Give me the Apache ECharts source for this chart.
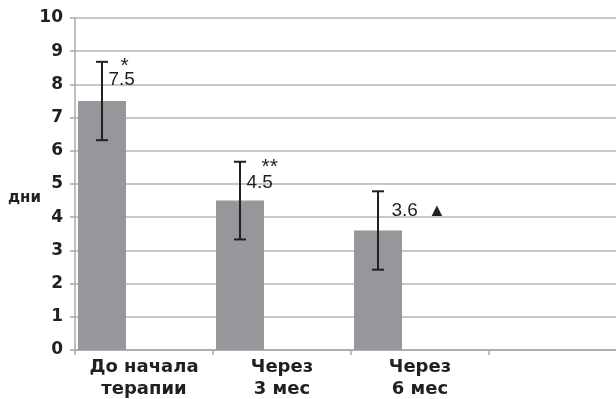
<!DOCTYPE html>
<html>
<head>
<meta charset="utf-8">
<style>
  html, body { margin: 0; padding: 0; background: #fff; }
  #chart { width: 616px; height: 399px; }
</style>
<script src="https://cdn.jsdelivr.net/npm/echarts@6/dist/echarts.min.js"></script>
</head>
<body>
<div id="chart"></div>
<script>
// Categories along the x axis (the fourth slot is left empty)
const categories = ['До начала\nтерапии', 'Через\n3 мес', 'Через\n6 мес', ''];
// Mean duration, days
const means = [7.5, 4.5, 3.6];
// Half-length of the error bars, days
const errors = [1.18, 1.17, 1.18];
// Significance marks written next to each value
const marks = ['*', '**', '▲'];
// Y axis range and step
const yMin = 0, yMax = 10, yStep = 1;

// Layout of the value labels relative to the top of each bar [dx, dy]
const labelOffsets = [[6.5, -21.5], [6.5, -17.5], [13.5, -19.5]];
const markOffsets = [[18.5, -45], [21.5, -43.5], [50, -19]];

const BAR_W = 48;
const BAR_GAP_PX = 36;
const barShift = -(BAR_W * 2 + BAR_GAP_PX) / 2 + BAR_W / 2;

const INK = '#231f20';
const FONT = '"Liberation Sans", Arial, sans-serif';
const BOLD_FONT = '"DejaVu Sans", sans-serif';

const chart = echarts.init(document.getElementById('chart'));

chart.setOption({
  animation: false,
  backgroundColor: '#fff',
  grid: { left: 75, width: 552, top: 18, bottom: 49, containLabel: false, outerBoundsMode: 'none' },
  xAxis: {
    type: 'category',
    data: categories,
    boundaryGap: true,
    axisLine: { lineStyle: { color: '#a9a9a9', width: 1.5 } },
    axisTick: { show: true, length: 5, lineStyle: { color: '#a9a9a9', width: 1.5 } },
    axisLabel: {
      color: INK, fontFamily: BOLD_FONT, fontWeight: 'bold', fontSize: 18,
      lineHeight: 22, margin: 6, interval: 0
    },
    splitLine: { show: false }
  },
  yAxis: {
    type: 'value',
    min: yMin, max: yMax, interval: yStep,
    axisLine: { show: true, lineStyle: { color: '#a9a9a9', width: 1.5 } },
    axisTick: { show: true, length: 5, lineStyle: { color: '#a9a9a9', width: 1.5 } },
    axisLabel: {
      color: INK, fontFamily: BOLD_FONT, fontWeight: 'bold', fontSize: 17, margin: 12
    },
    splitLine: { lineStyle: { color: '#b4b4b4', width: 1.5 } }
  },
  graphic: [{
    type: 'text', left: 8, top: 191,
    style: { text: 'дни', fill: INK, font: 'bold 15px ' + BOLD_FONT }
  }],
  series: [
    {
      type: 'bar',
      data: means,
      barWidth: BAR_W,
      barGap: (BAR_GAP_PX / BAR_W * 100) + '%',
      itemStyle: { color: '#96979a' },
      z: 2
    },
    {
      // empty companion series: keeps each bar at the left of its slot
      type: 'bar',
      data: [],
      barWidth: BAR_W
    },
    {
      type: 'custom',
      z: 5,
      data: means.map((m, i) => [i, m, errors[i]]),
      renderItem: function (params, api) {
        const i = api.value(0);
        const m = api.value(1);
        const e = api.value(2);
        const top = api.coord([i, m + e]);
        const bot = api.coord([i, m - e]);
        const mid = api.coord([i, m]);
        const x = top[0] + barShift;
        const cap = 6;
        const lo = labelOffsets[i], mo = markOffsets[i];
        const isTri = marks[i] === '▲';
        return {
          type: 'group',
          children: [
            { type: 'line', shape: { x1: x, y1: top[1], x2: x, y2: bot[1] }, style: { stroke: INK, lineWidth: 2 } },
            { type: 'line', shape: { x1: x - cap, y1: top[1], x2: x + cap, y2: top[1] }, style: { stroke: INK, lineWidth: 2 } },
            { type: 'line', shape: { x1: x - cap, y1: bot[1], x2: x + cap, y2: bot[1] }, style: { stroke: INK, lineWidth: 2 } },
            {
              type: 'text', x: x + lo[0], y: mid[1] + lo[1],
              style: { text: String(m), fill: INK, font: '19px ' + FONT, textAlign: 'left', textVerticalAlign: 'middle' }
            },
            {
              type: 'text', x: x + mo[0], y: mid[1] + mo[1],
              style: {
                text: marks[i], fill: INK,
                font: (isTri ? '18px ' : '21px ') + FONT,
                textAlign: 'left', textVerticalAlign: isTri ? 'middle' : 'top'
              }
            }
          ]
        };
      }
    }
  ]
});
</script>
</body>
</html>
